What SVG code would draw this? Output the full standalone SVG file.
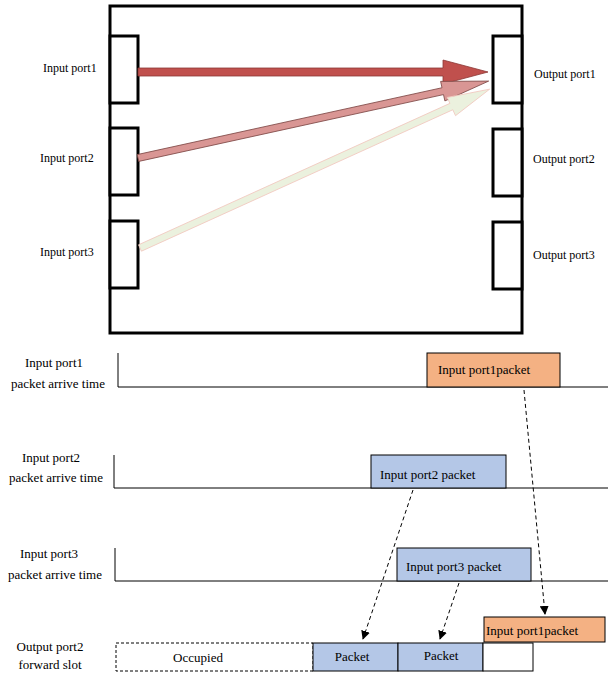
<svg xmlns="http://www.w3.org/2000/svg" width="608" height="673" viewBox="0 0 608 673">
<defs>
<style>
text{font-family:"Liberation Serif","Times New Roman",serif;fill:#000}
.lbl{font-size:12px}
.tl{font-size:13px;text-anchor:middle}
.bx{font-size:13px}
.port{fill:#fff;stroke:#000;stroke-width:3}
.ln{stroke:#000;stroke-width:1;fill:none}
.orange{fill:#F4B183;stroke:#000;stroke-width:1}
.blue{fill:#B4C7E7;stroke:#000;stroke-width:1}
.dash{stroke:#000;stroke-width:1;stroke-dasharray:4,3;fill:none}
</style>
<marker id="ah" viewBox="0 0 10 10" refX="9" refY="5" markerWidth="9" markerHeight="9" markerUnits="userSpaceOnUse" orient="auto">
<path d="M0,0 L10,5 L0,10 z" fill="#000"/>
</marker>
</defs>

<g id="switch">
<rect x="110" y="6" width="412" height="327" fill="#fff" stroke="#000" stroke-width="3"/>
</g>
<g id="in1"><rect class="port" x="110" y="36" width="28" height="67"/><text class="lbl" x="43" y="72">Input port1</text></g>
<g id="in2"><rect class="port" x="110" y="128" width="28" height="67"/><text class="lbl" x="40" y="162">Input port2</text></g>
<g id="in3"><rect class="port" x="110" y="221" width="28" height="67"/><text class="lbl" x="40" y="256">Input port3</text></g>
<g id="out1"><rect class="port" x="493" y="36" width="29" height="67"/><text class="lbl" x="534" y="78">Output port1</text></g>
<g id="out2"><rect class="port" x="493" y="129" width="29" height="67"/><text class="lbl" x="533" y="163">Output port2</text></g>
<g id="out3"><rect class="port" x="493" y="222" width="29" height="67"/><text class="lbl" x="533" y="259">Output port3</text></g>

<g id="flows">
<polygon points="138,68 443,68 443,60 488,72 443,84 443,76 138,76" fill="#C0504D" stroke="#8C3836" stroke-width="0.8"/>
<g transform="translate(138,158) rotate(-12.37)">
<polygon points="0,-3.5 312,-3.5 312,-10 359,0 312,10 312,3.5 0,3.5" fill="#D99694" stroke="#7F4A48" stroke-width="0.8"/>
</g>
<g transform="translate(140,248) rotate(-24.43)">
<polygon points="0,-3.5 342,-3.5 342,-10 384,0 342,10 342,3.5 0,3.5" fill="#EBF1DE" stroke="#F2C9C0" stroke-width="0.8"/>
</g>
</g>

<g id="row1">
<text class="tl" x="54" y="367">Input port1</text>
<text class="tl" x="58" y="388">packet arrive time</text>
<polyline class="ln" points="118,353 118,387 608,387"/>
</g>
<g id="p1">
<rect class="orange" x="427" y="353" width="133" height="34"/>
<text class="bx" x="438" y="374">Input port1packet</text>
</g>

<g id="row2">
<text class="tl" x="51" y="462">Input port2</text>
<text class="tl" x="56" y="482">packet arrive time</text>
<polyline class="ln" points="114,455 114,488 608,488"/>
</g>
<g id="p2">
<rect class="blue" x="371" y="455" width="135" height="33"/>
<text class="bx" x="380" y="479">Input port2 packet</text>
</g>

<g id="row3">
<text class="tl" x="49" y="558">Input port3</text>
<text class="tl" x="55" y="579">packet arrive time</text>
<polyline class="ln" points="115,548 115,581 608,581"/>
</g>
<g id="p3">
<rect class="blue" x="397" y="548" width="134" height="33"/>
<text class="bx" x="406" y="571">Input port3 packet</text>
</g>

<g id="row4">
<text class="tl" x="50" y="651">Output port2</text>
<text class="tl" x="50" y="669">forward slot</text>
</g>
<g id="occupied">
<rect x="116" y="643" width="197" height="28" fill="#fff" stroke="#000" stroke-width="1" stroke-dasharray="3,2"/>
<text class="bx" x="198" y="662" text-anchor="middle">Occupied</text>
</g>
<g id="slot1">
<rect class="blue" x="313" y="643" width="85" height="28"/>
<text class="bx" x="352" y="661" text-anchor="middle">Packet</text>
</g>
<g id="slot2">
<rect class="blue" x="398" y="643" width="85" height="28"/>
<text class="bx" x="441" y="660" text-anchor="middle">Packet</text>
</g>
<g id="slot3">
<rect x="483" y="643" width="50" height="28" fill="#fff" stroke="#000" stroke-width="1"/>
</g>
<g id="p1out">
<rect class="orange" x="484" y="617" width="121" height="25"/>
<text class="bx" x="486" y="635">Input port1packet</text>
</g>

<g id="connectors">
<line class="dash" x1="413" y1="490" x2="363" y2="639" marker-end="url(#ah)"/>
<line class="dash" x1="459" y1="583" x2="440" y2="639" marker-end="url(#ah)"/>
<line class="dash" x1="524" y1="390" x2="545" y2="614" marker-end="url(#ah)"/>
</g>
</svg>
